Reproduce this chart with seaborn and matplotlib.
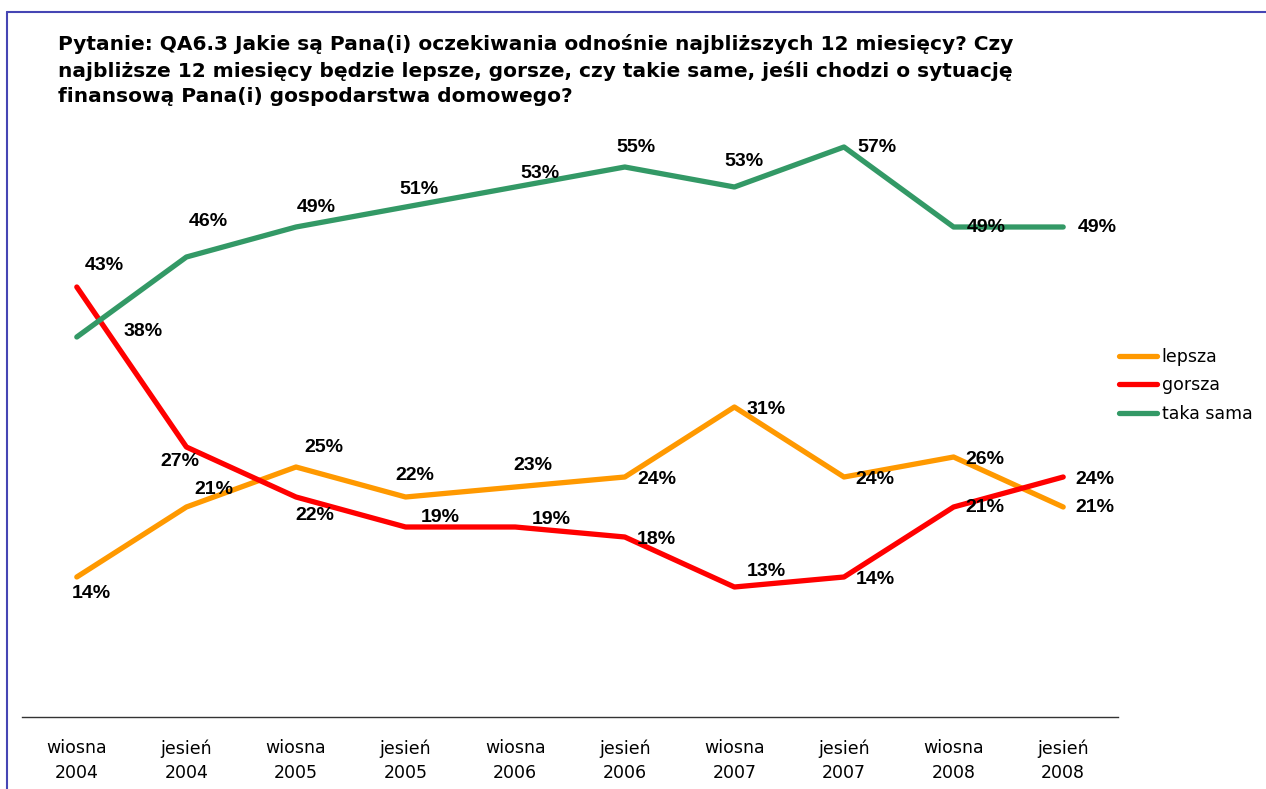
import numpy as np
import pandas as pd
import matplotlib.pyplot as plt
from matplotlib.lines import Line2D
import seaborn as sns

# survey waves
seasons = ["wiosna", "jesień", "wiosna", "jesień", "wiosna", "jesień",
           "wiosna", "jesień", "wiosna", "jesień"]
years = ["2004", "2004", "2005", "2005", "2006", "2006",
         "2007", "2007", "2008", "2008"]

lepsza = [14, 21, 25, 22, 23, 24, 31, 24, 26, 21]
gorsza = [43, 27, 22, 19, 19, 18, 13, 14, 21, 24]
taka_sama = [38, 46, 49, 51, 53, 55, 53, 57, 49, 49]

series_names = ["lepsza", "gorsza", "taka sama"]
colors = {"lepsza": "#FF9900", "gorsza": "#FF0000", "taka sama": "#339966"}

title = ("Pytanie: QA6.3 Jakie są Pana(i) oczekiwania odnośnie najbliższych 12 miesięcy? Czy\n"
         "najbliższe 12 miesięcy będzie lepsze, gorsze, czy takie same, jeśli chodzi o sytuację\n"
         "finansową Pana(i) gospodarstwa domowego?")

# label offsets in pixels (dx right, dy down), as placed in the original
label_offsets = {
    "lepsza": [(15, 17), (27, -18), (28, -19), (9, -22), (18, -22),
               (32, 2), (32, 2), (31, 2), (31, 2), (32, 1)],
    "gorsza": [(28, -22), (-7, 15), (19, 18), (35, -10), (36, -8),
               (32, 2), (32, -15), (31, 2), (31, 1), (32, 2)],
    "taka sama": [(66, -5), (22, -35), (20, -20), (13, -17), (25, -13),
                  (11, -20), (10, -25), (33, 0), (33, 0), (34, 0)],
}

pos = np.arange(len(seasons))
df = pd.DataFrame({
    "pos": np.tile(pos, 3),
    "seria": np.repeat(series_names, len(pos)),
    "wartosc": lepsza + gorsza + taka_sama,
})

sns.set_style("white")
plt.rcParams["font.family"] = ["DejaVu Sans"]
plt.rcParams["text.color"] = "black"
plt.rcParams["xtick.color"] = "black"

W, H = 1266, 789
fig = plt.figure(figsize=(W / 100, H / 100), dpi=100)
ax = fig.add_axes([22 / W, 1 - 717 / H, (1118 - 22) / W, (717 - 117) / H])

sns.lineplot(data=df, x="pos", y="wartosc", hue="seria", hue_order=series_names,
             palette=colors, linewidth=3.8, ax=ax,
             solid_capstyle="round", solid_joinstyle="round")

for name in series_names:
    vals = df.loc[df["seria"] == name, "wartosc"].to_numpy()
    for x, v, (dx, dy) in zip(pos, vals, label_offsets[name]):
        ax.annotate(f"{v}%", (x, v), xytext=(dx, -dy), textcoords="offset pixels",
                    ha="center", va="center", fontsize=14, fontweight="bold",
                    family=["Liberation Sans", "DejaVu Sans"], color="black")

ax.set_xlim(-0.5, len(seasons) - 0.5)
ax.set_ylim(0, 60)
ax.set_xlabel("")
ax.set_ylabel("")
ax.set_yticks([])

# ticks between categories, labels at centres
ax.set_xticks(np.arange(-0.5, len(seasons)), labels=[])
ax.set_xticks(pos, labels=[f"{s}\n{y}" for s, y in zip(seasons, years)], minor=True)
ax.tick_params(axis="x", which="major", direction="out", length=6, width=1, color="#333333")
ax.tick_params(axis="x", which="minor", length=0, pad=16, labelsize=12.5)
for lbl in ax.get_xticklabels(minor=True):
    lbl.set_linespacing(1.45)

for side in ["top", "right", "left"]:
    ax.spines[side].set_visible(False)
ax.spines["bottom"].set_color("#333333")
ax.spines["bottom"].set_linewidth(1)

handles, labels = ax.get_legend_handles_labels()
ax.get_legend().remove()
fig.legend(handles, labels, loc="upper left", bbox_to_anchor=(1119 / W, 1 - 348 / H),
           frameon=False, fontsize=12.5, handlelength=2.2, handletextpad=0.25,
           labelspacing=0.6, borderpad=0, borderaxespad=0)

fig.text(58 / W, 1 - 34 / H, title, ha="left", va="top", fontsize=14.5,
         fontweight="bold", linespacing=1.42)

# thin blue frame at the top and left like the original slide
fig.add_artist(Line2D([7 / W, 1], [1 - 12 / H, 1 - 12 / H], color="#4646B4", lw=1.5))
fig.add_artist(Line2D([7 / W, 7 / W], [0, 1 - 12 / H], color="#4646B4", lw=1.5))

fig.savefig("out.png", dpi=100)
